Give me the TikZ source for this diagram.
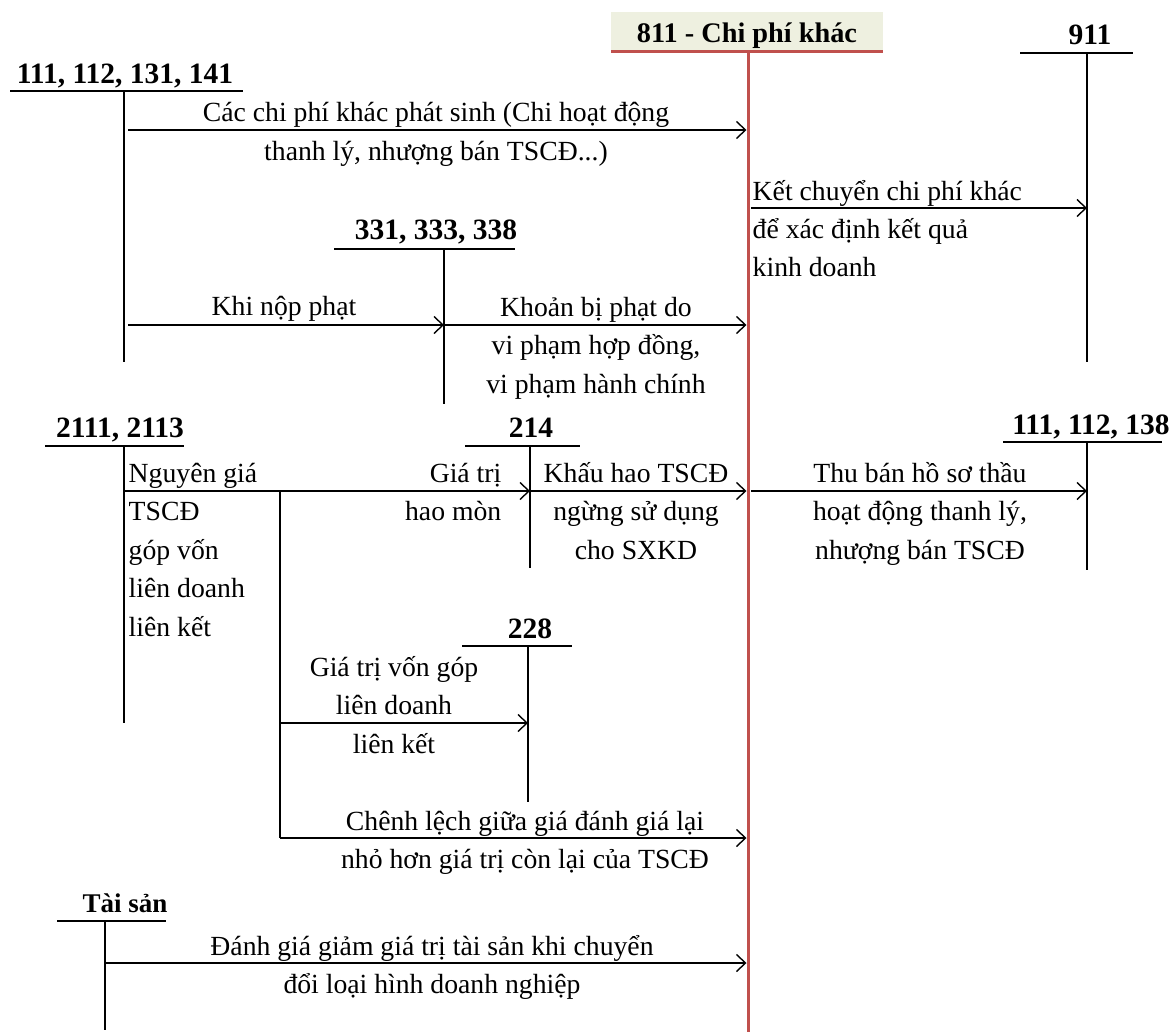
\documentclass[tikz,border=0pt]{standalone}
\usepackage{fontspec}
\setmainfont{Liberation Serif}
\usetikzlibrary{arrows.meta}

\definecolor{redline}{HTML}{C0504D}
\definecolor{headfill}{HTML}{EEF0E0}

\begin{document}
\begin{tikzpicture}[
  x=1pt, y=-1pt,
  line width=1.4pt,
  every node/.style={font=\fontsize{27.7}{38.5}\selectfont, inner sep=0pt},
  acct/.style={font=\fontsize{29.5}{38.5}\selectfont\bfseries, anchor=base},
  lbl/.style={align=center, anchor=base},
  lbll/.style={align=left, anchor=base west},
  arr/.style={-{Straight Barb[length=9pt, width=17pt]}},
  main/.style={redline, line width=3pt}
]
\useasboundingbox (0,0) rectangle (1175,1032);

% account 811
\fill[headfill] (611,12) rectangle (883,52);
\node[acct, font=\fontsize{28.3}{38.5}\selectfont\bfseries] (n811) at (747,43) {811 - Chi phí khác};
\draw[main] (611,52) -- (883,52);
\coordinate (v811) at (748,52);
\draw[main] (v811) -- (748,1032);

% the other accounts
\node[acct] (n111) at (125,84) {111, 112, 131, 141};
\draw (10,91) -- (243,91);
\coordinate (v111) at (124,91);
\draw (v111) -- (124,362);

\node[acct] (n911) at (1090,45) {911};
\draw (1020,53) -- (1133,53);
\coordinate (v911) at (1087,53);
\draw (v911) -- (1087,362);

\node[acct] (n331) at (436,240) {331, 333, 338};
\draw (334,249) -- (515,249);
\coordinate (v331) at (444,249);
\draw (v331) -- (444,404);

\node[acct] (n2111) at (120,437) {2111, 2113};
\draw (45,446) -- (184,446);
\coordinate (v2111) at (124,446);
\draw (v2111) -- (124,723);

\node[acct] (n214) at (531,437) {214};
\draw (465,446) -- (580,446);
\coordinate (v214) at (530,446);
\draw (v214) -- (530,568);

\node[acct] (n138) at (1091,434) {111, 112, 138};
\draw (1003,442) -- (1162,442);
\coordinate (v138) at (1087,442);
\draw (v138) -- (1087,570);

\node[acct] (n228) at (530,638) {228};
\draw (462,646) -- (572,646);
\coordinate (v228) at (528,646);
\draw (v228) -- (528,802);

\node[acct, font=\fontsize{27}{38.5}\selectfont\bfseries] (nts) at (125,912) {Tài sản};
\draw (57,921) -- (166,921);
\coordinate (vts) at (105,921);
\draw (vts) -- (105,1030);

% rows of the entries
\coordinate (r1) at (0,130);
\coordinate (r2) at (0,208);
\coordinate (r3) at (0,325);
\coordinate (r4) at (0,491);
\coordinate (r5) at (0,723);
\coordinate (r6) at (0,838);
\coordinate (r7) at (0,963);
\coordinate (br) at (280,491);

\draw[arr, shorten <=4pt, shorten >=1.5pt] (v111 |- r1) -- (v811 |- r1);
\draw[arr, shorten <=3pt] (v811 |- r2) -- (v911 |- r2);
\draw[arr, shorten <=4pt] (v111 |- r3) -- (v331 |- r3);
\draw[arr, shorten >=1.5pt] (v331 |- r3) -- (v811 |- r3);
\draw[arr] (v2111 |- r4) -- (v214 |- r4);
\draw[arr, shorten >=1.5pt] (v214 |- r4) -- (v811 |- r4);
\draw[arr, shorten <=3pt] (v811 |- r4) -- (v138 |- r4);
\draw (br) -- (br |- r6);
\draw[arr] (br |- r5) -- (v228 |- r5);
\draw[arr, shorten >=1.5pt] (br |- r6) -- (v811 |- r6);
\draw[arr, shorten >=1.5pt] (vts |- r7) -- (v811 |- r7);

% texts of the entries (anchored at the last line)
\node[lbl] (t1) at (436,160.5) {Các chi phí khác phát sinh (Chi hoạt động\\thanh lý, nhượng bán TSCĐ...)};
\node[lbll] (t2) at (752,277) {Kết chuyển chi phí khác\\để xác định kết quả\\kinh doanh};
\node[lbl] (t3) at (284,316) {Khi nộp phạt};
\node[lbl] (t4) at (596,393) {Khoản bị phạt do\\vi phạm hợp đồng,\\vi phạm hành chính};
\node[lbll] (t5) at (128,636) {Nguyên giá\\TSCĐ\\góp vốn\\liên doanh\\liên kết};
\node[lbl, align=right, anchor=base east] (t6) at (502,520.5) {Giá trị\\hao mòn};
\node[lbl] (t7) at (636,559) {Khấu hao TSCĐ\\ngừng sử dụng\\cho SXKD};
\node[lbl] (t8) at (920,559) {Thu bán hồ sơ thầu\\hoạt động thanh lý,\\nhượng bán TSCĐ};
\node[lbl] (t9) at (394,753) {Giá trị vốn góp\\liên doanh\\liên kết};
\node[lbl] (t10) at (525,868.5) {Chênh lệch giữa giá đánh giá lại\\nhỏ hơn giá trị còn lại của TSCĐ};
\node[lbl] (t11) at (432,993.5) {Đánh giá giảm giá trị tài sản khi chuyển\\đổi loại hình doanh nghiệp};
\end{tikzpicture}
\end{document}
